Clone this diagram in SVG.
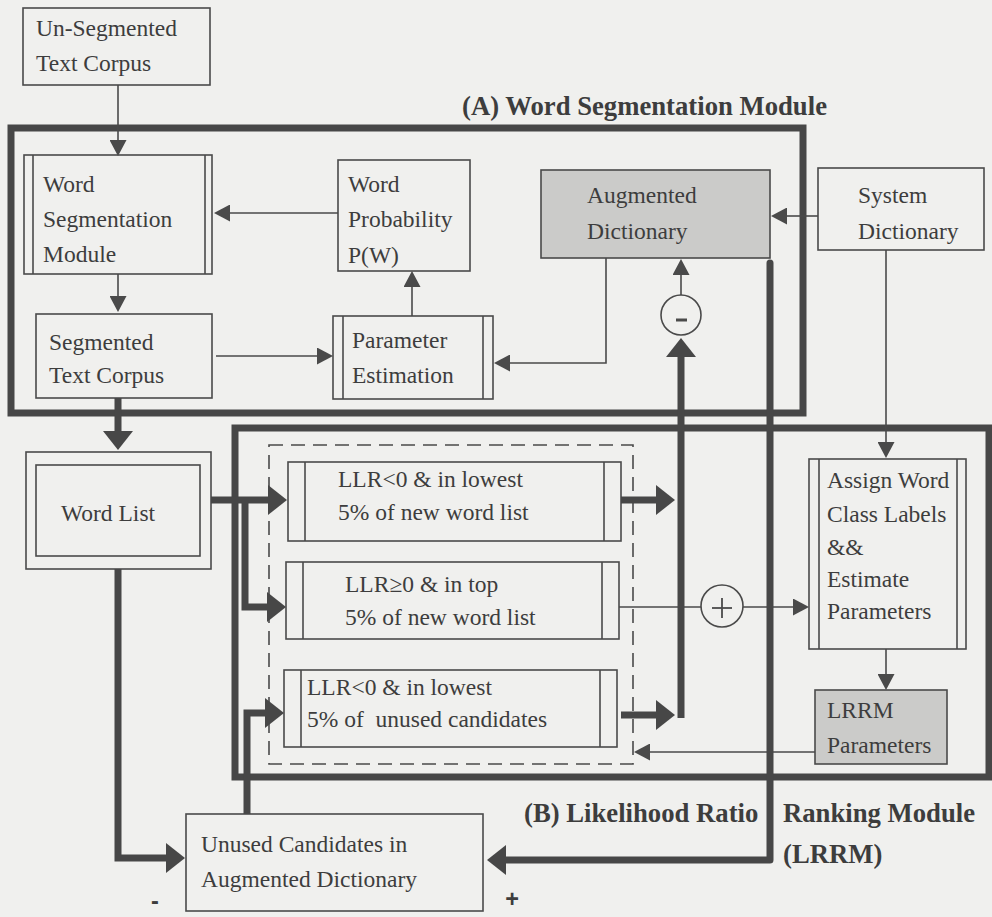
<svg xmlns="http://www.w3.org/2000/svg" width="992" height="917" viewBox="0 0 992 917">
<style>
.box{fill:none;stroke:#4a4a4a;stroke-width:1.6}
.gray{fill:#cbcbc9;stroke:#4a4a4a;stroke-width:1.6}
.mod{fill:none;stroke:#474747;stroke-width:7}
.dash{fill:none;stroke:#4a4a4a;stroke-width:1.6;stroke-dasharray:14 8}
.thin{fill:none;stroke:#4a4a4a;stroke-width:1.6}
.thick{fill:none;stroke:#474747;stroke-width:7}
text{font-family:"Liberation Serif","Times New Roman",serif;font-size:23.5px;fill:#3d3d3d}
.title{font-weight:bold;font-size:26.7px}
.sign{font-family:"Liberation Sans",Arial,sans-serif;font-weight:bold}
</style>
<defs>
<marker id="a" markerUnits="userSpaceOnUse" markerWidth="16" markerHeight="17" refX="0" refY="8.5" orient="auto"><path d="M0,0 L16,8.5 L0,17 z" fill="#4a4a4a"/></marker>
<marker id="A" markerUnits="userSpaceOnUse" markerWidth="19" markerHeight="30" refX="1" refY="15" orient="auto"><path d="M0,0 L19,15 L0,30 z" fill="#474747"/></marker>
</defs>
<rect x="0" y="0" width="992" height="917" fill="#f0f0ee"/>

<g id="moduleA">
<rect class="mod" x="11" y="128" width="792" height="285"/>
<text class="title" x="462" y="115">(A) Word Segmentation Module</text>
</g>
<g id="moduleB">
<rect class="mod" x="235" y="428" width="754" height="349"/>
<text class="title" x="524" y="822">(B) Likelihood Ratio</text>
<text class="title" x="783" y="822">Ranking Module</text>
<text class="title" x="783" y="863">(LRRM)</text>
</g>
<g id="candidates">
<rect class="dash" x="269" y="445" width="364" height="319"/>
</g>

<g id="unsegmented">
<rect class="box" x="23" y="8" width="187" height="77"/>
<text x="36" y="36">Un-Segmented</text>
<text x="36" y="71">Text Corpus</text>
</g>
<g id="wsm">
<rect class="box" x="24" y="155" width="188" height="119"/>
<line class="box" x1="33" y1="155" x2="33" y2="274"/>
<line class="box" x1="205" y1="155" x2="205" y2="274"/>
<text x="43" y="192">Word</text>
<text x="43" y="227">Segmentation</text>
<text x="43" y="262">Module</text>
</g>
<g id="wordprob">
<rect class="box" x="338" y="160" width="132" height="111"/>
<text x="348" y="192">Word</text>
<text x="348" y="227">Probability</text>
<text x="348" y="263">P(W)</text>
</g>
<g id="augdict">
<rect class="gray" x="541" y="170" width="229" height="88"/>
<text x="587" y="203">Augmented</text>
<text x="587" y="239">Dictionary</text>
</g>
<g id="sysdict">
<rect class="box" x="818" y="168" width="166" height="82"/>
<text x="858" y="203">System</text>
<text x="858" y="239">Dictionary</text>
</g>
<g id="segmented">
<rect class="box" x="36" y="314" width="176" height="84"/>
<text x="49" y="350">Segmented</text>
<text x="49" y="383">Text Corpus</text>
</g>
<g id="paramest">
<rect class="box" x="333" y="316" width="160" height="83"/>
<line class="box" x1="343" y1="316" x2="343" y2="399"/>
<line class="box" x1="483" y1="316" x2="483" y2="399"/>
<text x="352" y="348">Parameter</text>
<text x="352" y="383">Estimation</text>
</g>
<g id="minus">
<circle class="box" cx="681" cy="315" r="20"/>
<line x1="676" y1="320" x2="687" y2="320" stroke="#4a4a4a" stroke-width="3"/>
</g>
<g id="wordlist">
<rect class="box" x="26" y="452" width="185" height="117"/>
<rect class="box" x="36" y="465" width="164" height="91"/>
<text x="61" y="521">Word List</text>
</g>
<g id="box1">
<rect class="box" x="288" y="462" width="333" height="79"/>
<line class="box" x1="305" y1="462" x2="305" y2="541"/>
<line class="box" x1="604" y1="462" x2="604" y2="541"/>
<text x="338" y="487">LLR&lt;0 &amp; in lowest</text>
<text x="338" y="520">5% of new word list</text>
</g>
<g id="box2">
<rect class="box" x="286" y="562" width="333" height="77"/>
<line class="box" x1="303" y1="562" x2="303" y2="639"/>
<line class="box" x1="602" y1="562" x2="602" y2="639"/>
<text x="345" y="592">LLR≥0 &amp; in top</text>
<text x="345" y="625">5% of new word list</text>
</g>
<g id="box3">
<rect class="box" x="284" y="670" width="333" height="77"/>
<line class="box" x1="301" y1="670" x2="301" y2="747"/>
<line class="box" x1="600" y1="670" x2="600" y2="747"/>
<text x="307" y="695">LLR&lt;0 &amp; in lowest</text>
<text x="307" y="727" xml:space="preserve">5% of  unused candidates</text>
</g>
<g id="plus">
<circle class="box" cx="722" cy="606" r="21"/>
<line x1="712" y1="608" x2="732" y2="608" stroke="#4a4a4a" stroke-width="1.8"/>
<line x1="722" y1="598" x2="722" y2="618" stroke="#4a4a4a" stroke-width="1.8"/>
</g>
<g id="assign">
<rect class="box" x="809" y="459" width="157" height="190"/>
<line class="box" x1="819" y1="459" x2="819" y2="649"/>
<line class="box" x1="957" y1="459" x2="957" y2="649"/>
<text x="827" y="488">Assign Word</text>
<text x="827" y="522">Class Labels</text>
<text x="827" y="555">&amp;&amp;</text>
<text x="827" y="587">Estimate</text>
<text x="827" y="619">Parameters</text>
</g>
<g id="lrrm">
<rect class="gray" x="815" y="690" width="132" height="74"/>
<text x="827" y="718">LRRM</text>
<text x="827" y="753">Parameters</text>
</g>
<g id="unused">
<rect class="box" x="186" y="814" width="297" height="97"/>
<text x="201" y="852">Unused Candidates in</text>
<text x="201" y="887">Augmented Dictionary</text>
<text class="sign" x="155" y="909" font-size="36" text-anchor="middle">-</text>
<text class="sign" x="512" y="907" font-size="42" text-anchor="middle">+</text>
</g>

<g id="connectors">
<path class="thin" d="M118,85 V140" marker-end="url(#a)"/>
<path class="thin" d="M338,213 H230" marker-end="url(#a)"/>
<path class="thin" d="M118,274 V296" marker-end="url(#a)"/>
<path class="thin" d="M216,356 H317" marker-end="url(#a)"/>
<path class="thin" d="M412,316 V287" marker-end="url(#a)"/>
<path class="thin" d="M818,216 H787" marker-end="url(#a)"/>
<path class="thin" d="M606,258 V363 H510" marker-end="url(#a)"/>
<path class="thin" d="M681,295 V275" marker-end="url(#a)"/>
<path class="thin" d="M886,250 V442" marker-end="url(#a)"/>
<path class="thin" d="M619,607 H701"/>
<path class="thin" d="M743,607 H793" marker-end="url(#a)"/>
<path class="thin" d="M886,649 V674" marker-end="url(#a)"/>
<path class="thin" d="M815,752 H650" marker-end="url(#a)"/>

<path class="thick" d="M118,398 V432" marker-end="url(#A)"/>
<path class="thick" d="M211,500 H269" marker-end="url(#A)"/>
<path class="thick" d="M245,500 V607 H268" marker-end="url(#A)"/>
<path class="thick" d="M118,569 V858 H167" marker-end="url(#A)"/>
<path class="thick" d="M247,814 V713 H266" marker-end="url(#A)"/>
<path class="thick" d="M621,500 H657" marker-end="url(#A)"/>
<path class="thick" d="M621,715 H657" marker-end="url(#A)"/>
<path class="thick" d="M681,718 V356" marker-end="url(#A)"/>
<path class="thick" d="M770,263 V860 H505" stroke-linecap="round" stroke-linejoin="round" marker-end="url(#A)"/>
</g>
</svg>
